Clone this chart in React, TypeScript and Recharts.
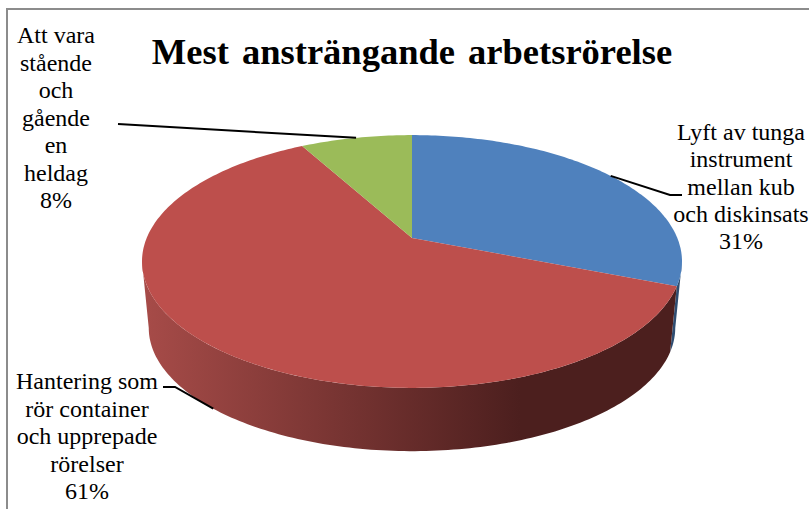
import React from "react";
import { Pie, PieChart } from "recharts";

const TITLE = "Mest ansträngande arbetsrörelse";

const categories = [
  ["Lyft av tunga", "instrument", "mellan kub", "och diskinsats"],
  ["Hantering som", "rör container", "och upprepade", "rörelser"],
  ["Att vara", "stående", "och", "gående", "en", "heldag"],
];
const shares = [31, 61, 8];
const topColors = ["#4f81bd", "#bd4f4c", "#9bbb59"];
const wallColors = ["#2f4d71", "url(#redWall)", "#5d7035"];

const pieData = categories.map((lines, i) => ({ name: lines.join(" "), value: shares[i] }));

// label placement: text centre, first baseline, leader elbow and leader end
const labelLayout = [
  { x: 741, y: 140, step: 27.3, elbow: [670, 195], end: [682, 195], onWall: false },
  { x: 87, y: 389, step: 27.6, elbow: [175, 387], end: [163, 387], onWall: true },
  { x: 56, y: 43, step: 27.5, elbow: [118, 124], end: [118, 124], onWall: false },
];

const FONT = '"Liberation Serif", "Times New Roman", serif';
const RAD = Math.PI / 180;

// the disc is seen in perspective, so a circle is projected by hand
const TILT = 0.46;
const PERSP = 0.1858;
const WALL_DROP = 67;
const WALL_SCALE = 0.975;
const FRONT_LIMIT = Math.asin(PERSP) / RAD;

const project = (cx: number, cy: number, r: number, deg: number, wall = false) => {
  const u = Math.cos(deg * RAD);
  const v = Math.sin(deg * RAD);
  const d = 1 + PERSP * v;
  const s = wall ? WALL_SCALE : 1;
  return [cx + (s * r * u) / d, cy + (wall ? WALL_DROP : 0) - (s * r * TILT * v) / d];
};

const arc = (cx: number, cy: number, r: number, from: number, to: number, wall = false) => {
  const n = Math.max(2, Math.ceil(Math.abs(to - from)));
  const pts: number[][] = [];
  for (let i = 0; i <= n; i++) pts.push(project(cx, cy, r, from + ((to - from) * i) / n, wall));
  return pts;
};

const toPath = (pts: number[][]) => "M" + pts.map((p) => `${p[0].toFixed(2)} ${p[1].toFixed(2)}`).join("L") + "Z";

const TopSlice = (props: any) => {
  const { cx, cy, outerRadius, startAngle, endAngle, index } = props;
  return <path d={toPath([[cx, cy], ...arc(cx, cy, outerRadius, startAngle, endAngle)])} fill={topColors[index]} />;
};

const WallSlice = (props: any) => {
  const { cx, cy, outerRadius, startAngle, endAngle, index } = props;
  // only the part of the rim that faces the viewer
  const from = Math.min(startAngle, -FRONT_LIMIT);
  const to = Math.max(endAngle, -180 + FRONT_LIMIT);
  if (from <= to) return <g />;
  const top = arc(cx, cy, outerRadius, from, to);
  const bottom = arc(cx, cy, outerRadius, to, from, true);
  return <path d={toPath([...top, ...bottom])} fill={wallColors[index]} />;
};

const SliceLabel = (props: any) => {
  const { cx, cy, outerRadius, midAngle, index } = props;
  const layout = labelLayout[index];
  const lines = [...categories[index], `${shares[index]}%`];
  const start = project(cx, cy, outerRadius, midAngle, layout.onWall);
  return (
    <g>
      <polyline
        points={[start, layout.elbow, layout.end].map((p) => p.join(",")).join(" ")}
        fill="none"
        stroke="#000"
        strokeWidth={2}
      />
      <text x={layout.x} y={layout.y} textAnchor="middle" fontFamily={FONT} fontSize={24} fill="#000">
        {lines.map((line, i) => (
          <tspan key={i} x={layout.x} y={layout.y + i * layout.step}>
            {line}
          </tspan>
        ))}
      </text>
    </g>
  );
};

export default function App() {
  return (
    <div style={{ position: "absolute", left: 0, top: 0, width: 809, height: 509, overflow: "hidden", background: "#fff" }}>
      <div style={{ position: "absolute", left: 6, top: 8, width: 803, height: 501, borderLeft: "2px solid #8c8c8c", borderTop: "2px solid #8c8c8c", boxSizing: "border-box" }} />
      <div style={{ position: "absolute", left: 0, top: 0 }}>
        <PieChart width={809} height={509} margin={{ top: 0, right: 0, bottom: 0, left: 0 }}>
          <defs>
            <linearGradient id="redWall" gradientUnits="userSpaceOnUse" x1={146} y1={0} x2={520} y2={0}>
              <stop offset="0%" stopColor="#a64b48" />
              <stop offset="100%" stopColor="#4c1f1e" />
            </linearGradient>
          </defs>
          <text x={412} y={64} textAnchor="middle" fontFamily={FONT} fontSize={36.5} fontWeight="bold" fill="#000" wordSpacing={4}>
            {TITLE}
          </text>
          <Pie
            data={pieData}
            dataKey="value"
            cx={412}
            cy={238}
            outerRadius={265.3}
            startAngle={90}
            endAngle={-270}
            shape={WallSlice}
            label={false}
            labelLine={false}
            isAnimationActive={false}
          />
          <Pie
            data={pieData}
            dataKey="value"
            cx={412}
            cy={238}
            outerRadius={265.3}
            startAngle={90}
            endAngle={-270}
            shape={TopSlice}
            label={SliceLabel}
            labelLine={false}
            isAnimationActive={false}
          />
        </PieChart>
      </div>
    </div>
  );
}
